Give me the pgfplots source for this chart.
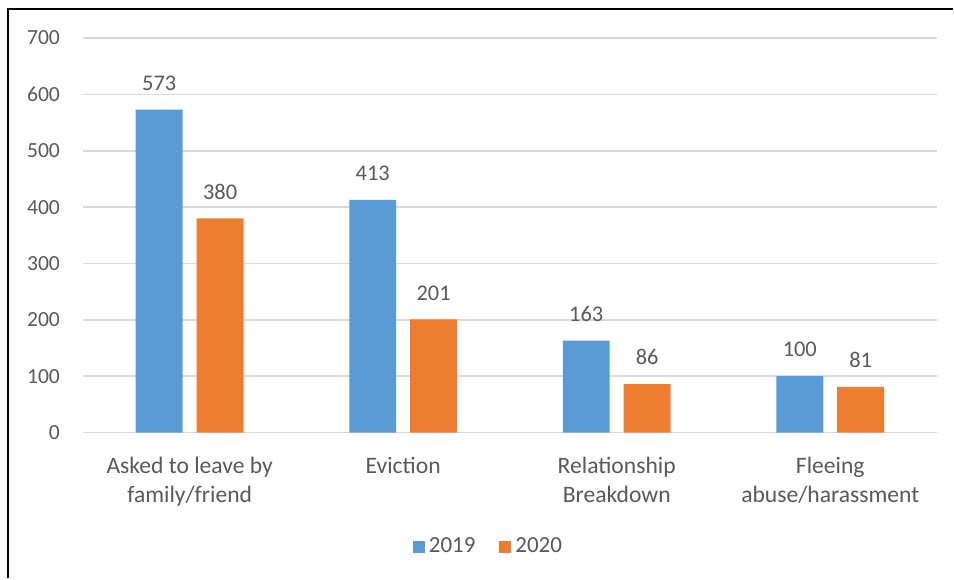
\documentclass[border=0pt]{standalone}
\usepackage{pgfplots}
\pgfplotsset{compat=1.18}
\usetikzlibrary{calc}
\usepackage{fontspec}
\setmainfont{Carlito}
\definecolor{b19}{HTML}{5B9BD5}
\definecolor{o20}{HTML}{ED7D31}
\definecolor{txt}{HTML}{595959}
\definecolor{grd}{HTML}{D9D9D9}
\begin{document}
\begin{tikzpicture}
\begin{axis}[
  name=ax,
  scale only axis, width=427.5pt, height=197.5pt,
  xmin=-0.5, xmax=3.5, ymin=0, ymax=700,
  ytick={0,100,...,700},
  xtick={0,1,2,3},
  xticklabels={Asked to leave by\\family/friend, Eviction, Relationship\\Breakdown, Fleeing\\abuse/harassment},
  axis line style={draw=none},
  tick style={draw=none},
  ymajorgrids, grid style={grd, line width=0.8pt},
  ybar, bar width=23.5pt,
  /pgf/number format/assume math mode=true,
  tick label style={font=\fontsize{10.8}{14.5}\selectfont, text=txt},
  xticklabel style={align=center, yshift=-4.5pt, font=\fontsize{11.8}{14.5}\selectfont},
  yticklabel style={xshift=-8pt},
  nodes near coords,
  every node near coord/.append style={font=\fontsize{11.2}{13}\selectfont, text=txt, yshift=6pt},
  legend style={draw=none, at={(0.476,-0.29)}, anchor=center, legend columns=2,
    font=\fontsize{11.5}{13}\selectfont, text=txt,
    /tikz/every even column/.append style={column sep=10pt}},
  legend image code/.code={\fill[#1] (0pt,-3pt) rectangle (6pt,3pt);},
]
\addplot[fill=b19, draw=none, bar shift=-15.25pt] coordinates {(0,573) (1,413) (2,163) (3,100)};
\addplot[fill=o20, draw=none, bar shift=15.25pt] coordinates {(0,380) (1,201) (2,86) (3,81)};
\legend{2019, 2020}
\end{axis}
\pgfresetboundingbox
\coordinate (O) at ($(ax.south west)+(-41.5pt,-73pt)$);
\path (O) rectangle ($(O)+(477pt,289.5pt)$);
\draw[line width=1pt] ($(O)+(4pt,0pt)$) -- ($(O)+(4pt,285pt)$) -- ($(O)+(477pt,285pt)$);
\end{tikzpicture}
\end{document}
